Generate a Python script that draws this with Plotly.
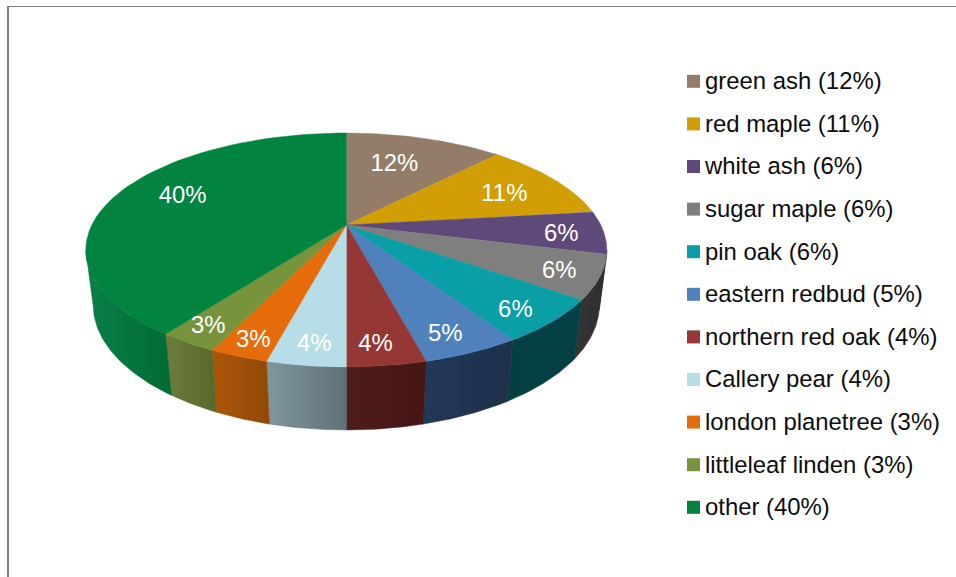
import numpy as np
import plotly.graph_objects as go

CATEGORIES = ["green ash", "red maple", "white ash", "sugar maple", "pin oak", "eastern redbud",
              "northern red oak", "Callery pear", "london planetree", "littleleaf linden", "other"]
VALUES = [12, 11, 6, 6, 6, 5, 4, 4, 3, 3, 40]
TOP_COLORS = ["#937C68", "#D19E04", "#5F497A", "#7F7F7F", "#0A9EA6", "#4F81BD",
              "#953735", "#B7DEE8", "#E46C0A", "#77933C", "#00843F"]
SIDE_LEFT = ["#5a4b3e", "#7e5f02", "#3a2c4a", "#353535", "#053F42", "#22385A",
             "#4F1C1B", "#7F979E", "#AB5608", "#6F7C3E", "#0A8048"]
SIDE_RIGHT = ["#5a4b3e", "#7e5f02", "#3a2c4a", "#2E2E2E", "#044044", "#1E3049",
              "#451614", "#5F7177", "#914906", "#56682A", "#006A34"]
LABEL_RADII = [0.665, 0.729, 0.835, 0.855, 0.864, 0.864, 0.867, 0.868, 0.89, 0.879, 0.74]
LABEL_ANGLE_OFFSETS = [-2.8, 2.2, 1.2, 0.5, 1.7, 1.5, 1.0, -0.4, -0.1, 0.6, 4.7]

# perspective view of the disc, in the page's pixel coordinates
CX, CY, A, B, K, DEPTH, SHRINK = 346.3, 225, 254.5, 111.6, 0.2137, 55.3, 0.028
TANGENT = np.degrees(np.arccos(-K))          # where the rim turns out of sight
VISIBLE_SIDE = (TANGENT, 360 - TANGENT)
FONT = "Liberation Sans"
FONT_SIZE = 23.9
TEXT_DY = 2
LEGEND_SWATCH_X, LEGEND_TEXT_X, LEGEND_Y0, LEGEND_STEP = 693.5, 705, 81.3, 42.6


def project(theta_deg, r=1.0, bottom=False):
    t = np.radians(theta_deg)
    X, Z = r * np.sin(t), -r * np.cos(t)
    w = 1 - K * Z + (SHRINK if bottom else 0)
    d = DEPTH if bottom else 0
    return CX + A * X / w, CY + (B * Z + d) / w


edges = np.cumsum([0] + VALUES) * 3.6
fig = go.Figure()

# sides
for i, c in enumerate(CATEGORIES):
    t0, t1 = max(edges[i], VISIBLE_SIDE[0]), min(edges[i + 1], VISIBLE_SIDE[1])
    if t1 <= t0:
        continue
    ts = np.linspace(t0, t1, 50)
    xt, yt = project(ts)
    xb, yb = project(ts[::-1], bottom=True)
    fig.add_trace(go.Scatter(
        x=np.r_[xt, xb, xt[0]], y=np.r_[yt, yb, yt[0]], mode="lines", fill="toself",
        line=dict(width=0.5, color=SIDE_RIGHT[i]),
        fillgradient=dict(type="horizontal", colorscale=[[0, SIDE_LEFT[i]], [1, SIDE_RIGHT[i]]]),
        hoverinfo="skip", showlegend=False))

# top face
for i, c in enumerate(CATEGORIES):
    ts = np.linspace(edges[i], edges[i + 1], 60)
    xt, yt = project(ts)
    fig.add_trace(go.Scatter(
        x=np.r_[CX, xt, CX], y=np.r_[CY, yt, CY], mode="lines", fill="toself",
        fillcolor=TOP_COLORS[i], line=dict(width=0.5, color=TOP_COLORS[i]),
        name=c, hoverinfo="name", showlegend=False))

# value labels
mids = (edges[:-1] + edges[1:]) / 2 + np.array(LABEL_ANGLE_OFFSETS)
lx, ly = project(mids, np.array(LABEL_RADII))
fig.add_trace(go.Scatter(
    x=lx, y=ly + TEXT_DY, mode="text", text=[f"{v}%" for v in VALUES], textposition="middle center",
    textfont=dict(family=FONT, size=FONT_SIZE, color="white"), hoverinfo="skip", showlegend=False))

# legend
ly_leg = LEGEND_Y0 + LEGEND_STEP * np.arange(len(CATEGORIES))
fig.add_trace(go.Scatter(
    x=[LEGEND_SWATCH_X] * len(CATEGORIES), y=ly_leg, mode="markers",
    marker=dict(symbol="square", size=13, color=TOP_COLORS, line=dict(width=0)),
    hoverinfo="skip", showlegend=False))
fig.add_trace(go.Scatter(
    x=[LEGEND_TEXT_X] * len(CATEGORIES), y=ly_leg + TEXT_DY, mode="text",
    text=[f"{c} ({v}%)" for c, v in zip(CATEGORIES, VALUES)], textposition="middle right",
    textfont=dict(family=FONT, size=FONT_SIZE, color="#0d0d0d"), hoverinfo="skip", showlegend=False))

# frame
fig.add_shape(type="line", x0=8, x1=8, y0=6, y1=577, line=dict(color="#808080", width=2))
fig.add_shape(type="line", x0=7, x1=956, y0=6.5, y1=6.5, line=dict(color="#808080", width=1))

fig.update_layout(
    width=956, height=577, margin=dict(l=0, r=0, t=0, b=0), paper_bgcolor="white", plot_bgcolor="white",
    xaxis=dict(range=[0, 956], visible=False, fixedrange=True),
    yaxis=dict(range=[577, 0], visible=False, fixedrange=True),
    showlegend=False)
fig.write_html("out.html", config=dict(displayModeBar=False),
               post_script="document.body.style.margin='0';document.body.style.overflow='hidden';")
